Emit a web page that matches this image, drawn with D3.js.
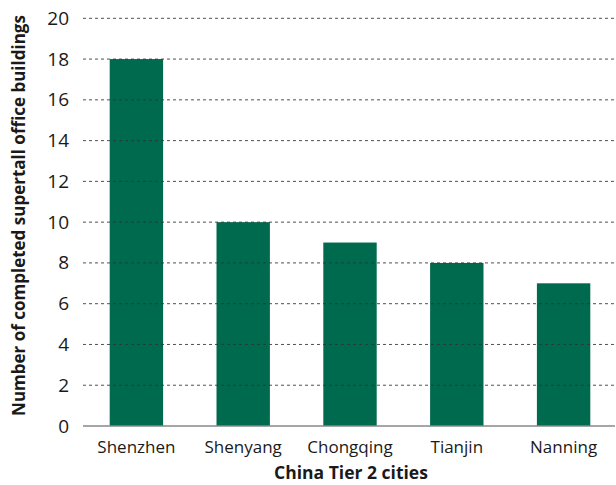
<!DOCTYPE html>
<html><head><meta charset="utf-8">
<script src="https://cdn.jsdelivr.net/npm/d3@7"></script>
<style>body{margin:0;background:#fff}text{font-family:"Open Sans",sans-serif;fill:#1a1a1a}</style>
</head><body><svg id="c" width="616" height="485"></svg>
<script>
const categories = ["Shenzhen","Shenyang","Chongqing","Tianjin","Nanning"];
const values = [18,10,9,8,7];
const yTicks = [0,2,4,6,8,10,12,14,16,18,20];
const xTitle = "China Tier 2 cities";
const yTitle = "Number of completed supertall office buildings";

const svg = d3.select("#c");
const L = 83, R = 617, T = 18.3, B = 426;
const x = d3.scaleBand().domain(categories).range([L, R]).paddingInner(0.5).paddingOuter(0.25);
const y = d3.scaleLinear().domain([0,20]).range([B, T]);

svg.selectAll("rect.bar").data(values).enter().append("rect")
  .attr("x",(d,i)=>x(categories[i])).attr("width",x.bandwidth())
  .attr("y",d=>y(d)).attr("height",d=>B-y(d)).attr("fill","#006a4e");

svg.selectAll("line.grid").data(yTicks.filter(t=>t>0)).enter().append("line")
  .attr("x1",L).attr("x2",615).attr("y1",d=>y(d)).attr("y2",d=>y(d))
  .attr("stroke","#333").attr("stroke-width",1).attr("stroke-dasharray","3,3").attr("opacity",0.85);

svg.append("line").attr("x1",L).attr("x2",615).attr("y1",B).attr("y2",B).attr("stroke","#888").attr("stroke-width",1.5);

svg.selectAll("text.yt").data(yTicks).enter().append("text")
  .attr("x",69).attr("y",d=>y(d)+6.5).attr("text-anchor","end").attr("font-size",19).text(d=>d);

svg.selectAll("text.xt").data(categories).enter().append("text")
  .attr("x",d=>x(d)+x.bandwidth()/2).attr("y",452.5).attr("text-anchor","middle").attr("font-size",17).text(d=>d);

svg.append("text").attr("x",351).attr("y",479).attr("text-anchor","middle").attr("font-size",17.5).attr("font-weight","bold").text(xTitle);
svg.append("text").attr("transform","translate(24.5,215.5) rotate(-90)").attr("text-anchor","middle").attr("font-size",17).attr("font-weight","bold").text(yTitle);
</script></body></html>
